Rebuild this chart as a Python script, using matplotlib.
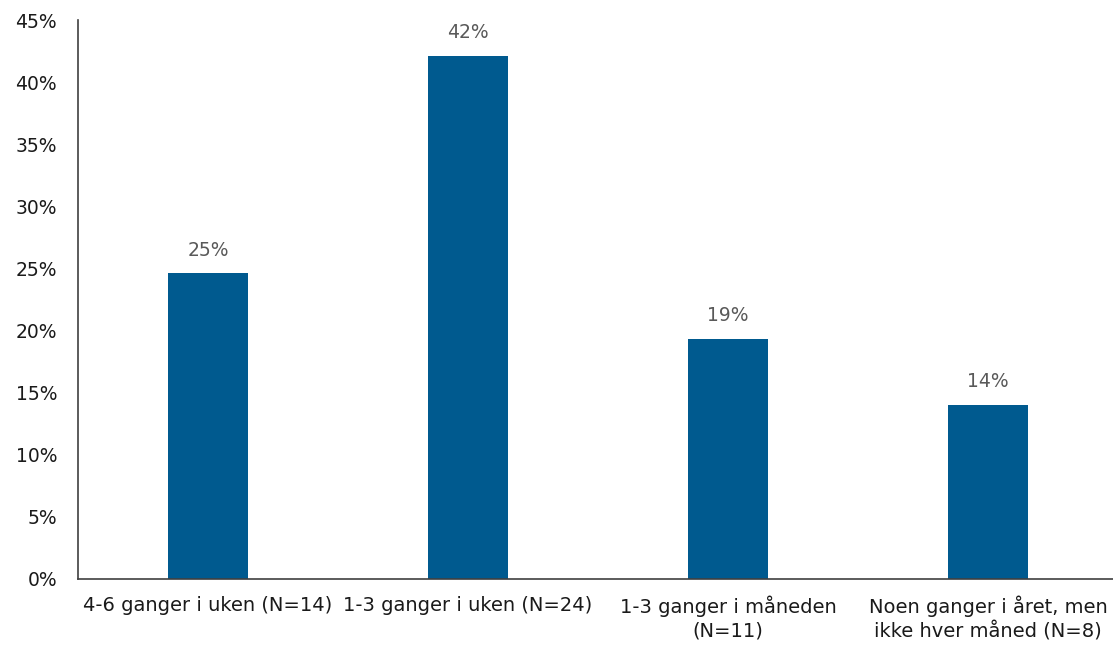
import matplotlib.pyplot as plt
from matplotlib.ticker import FuncFormatter

# Datos
categorias = ['4-6 ganger i uken (N=14)', '1-3 ganger i uken (N=24)',
              '1-3 ganger i måneden\n(N=11)', 'Noen ganger i året, men\nikke hver måned (N=8)']
valores = [24.6, 42.1, 19.3, 14.0]
etiquetas = ['25%', '42%', '19%', '14%']

plt.rcParams['font.family'] = ['DejaVu Sans']

fig = plt.figure(figsize=(11.13, 6.46), dpi=100)
ax = fig.add_axes([78 / 1113, 67 / 646, 1040 / 1113, 559 / 646])

x = range(len(categorias))
barras = ax.bar(x, valores, width=0.31, color='#005A8F')

for b, txt in zip(barras, etiquetas):
    ax.annotate(txt, (b.get_x() + b.get_width() / 2, b.get_height()),
                xytext=(0, 10), textcoords='offset points',
                ha='center', va='bottom', fontsize=13.5, color='#595959')

ax.set_xlim(-0.5, 3.5)
ax.set_ylim(0, 45)
ax.set_yticks(range(0, 46, 5))
ax.yaxis.set_major_formatter(FuncFormatter(lambda v, p: f'{int(v)}%'))
ax.set_xticks(list(x))
ax.set_xticklabels(categorias, fontsize=14, color='#1a1a1a', linespacing=1.3)
ax.tick_params(axis='y', labelsize=13.5, labelcolor='#1a1a1a', length=0, pad=15)
ax.tick_params(axis='x', length=0, pad=12)

for s in ['top', 'right']:
    ax.spines[s].set_visible(False)
for s in ['left', 'bottom']:
    ax.spines[s].set_color('#404040')
    ax.spines[s].set_linewidth(1.2)

plt.savefig('out.png', dpi=100)
